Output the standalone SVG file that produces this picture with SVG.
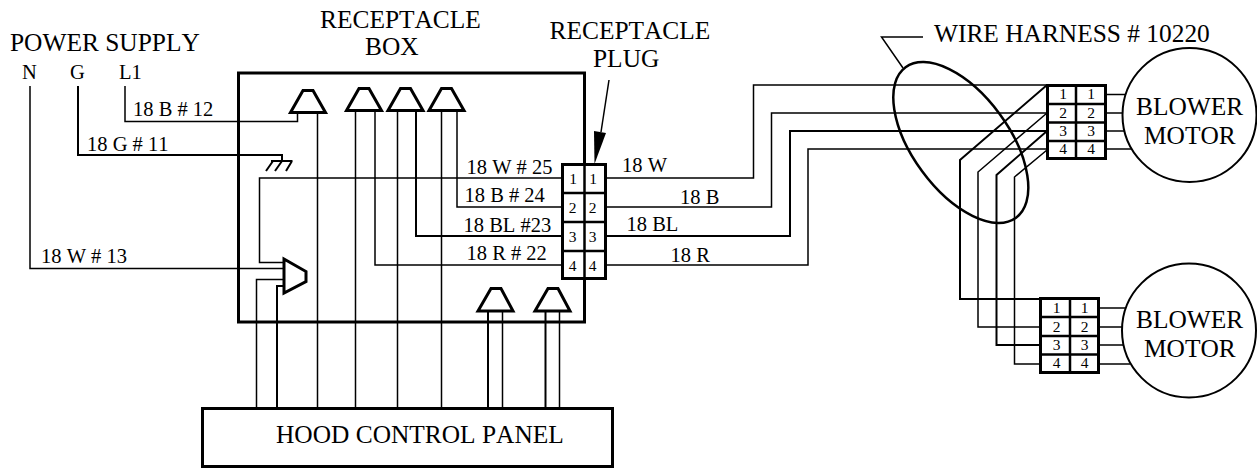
<svg xmlns="http://www.w3.org/2000/svg" width="1257" height="468" viewBox="0 0 1257 468">
<style>
text{font-family:"Liberation Serif","Times New Roman",serif;fill:#000;font-kerning:none}
.t{font-size:25.4px}.l{font-size:20.5px}.d{font-size:15.5px;text-anchor:middle}
.b{fill:none;stroke:#000;stroke-width:3}
.g{fill:none;stroke:#000;stroke-width:2.5}
.s{fill:#fff;stroke:#000;stroke-width:3;stroke-linejoin:miter}
.w path,.w line{fill:none;stroke:#000;stroke-width:1.5}
.m{fill:#fff;stroke:#000;stroke-width:2}
</style>
<rect width="1257" height="468" fill="#fff"/>
<g id="labels">
<text class="t" x="10" y="51">POWER SUPPLY</text>
<text class="l" x="22" y="79">N</text><text class="l" x="70" y="79">G</text><text class="l" x="119" y="79">L1</text>
<text class="l" x="133" y="116">18 B # 12</text>
<text class="l" x="87" y="151">18 G # 11</text>
<text class="l" x="41" y="263">18 W # 13</text>
<text class="t" x="320" y="27.5">RECEPTACLE</text>
<text class="t" x="365" y="54.5">BOX</text>
<text class="t" x="549.5" y="39">RECEPTACLE</text>
<text class="t" x="593" y="66.5">PLUG</text>
<text class="l" x="466.5" y="174">18 W # 25</text>
<text class="l" x="464.5" y="202">18 B # 24</text>
<text class="l" x="463.5" y="232">18 BL #23</text>
<text class="l" x="466.5" y="260">18 R # 22</text>
<text class="l" x="622" y="172">18 W</text>
<text class="l" x="680" y="204">18 B</text>
<text class="l" x="626.5" y="231">18 BL</text>
<text class="l" x="670.5" y="262">18 R</text>
<text class="t" x="934" y="41.5">WIRE HARNESS # 10220</text>
</g>
<g id="receptacle-box"><rect class="b" x="238.5" y="73" width="346" height="249"/></g>
<g id="connectors" class="w">
<path d="M30 86V268.5H284"/>
<path d="M78 86V155H282V161" style="stroke-width:2"/>
<path d="M125 86V121.5H297.5V112"/>
<path d="M562 178H259.5V262.5H285"/>
<path d="M562 207H457V110"/>
<path d="M562 236H416V110" style="stroke-width:2"/>
<path d="M562 265H375V110"/>
<path d="M317.5 112V408"/><path d="M355.5 110V408"/><path d="M397.5 110V408"/><path d="M441.5 110V408"/>
<path d="M256.5 408V279.5H285"/>
<path d="M277 408V286H285" style="stroke-width:2"/>
<path d="M488 311V408" style="stroke-width:2"/><path d="M502.5 311V408"/>
<path d="M545.5 311V408" style="stroke-width:2"/><path d="M559.5 311V408"/>
<path d="M606 178H753.5V85H1047"/>
<path d="M606 207H771.5V113H1047"/>
<path d="M606 236H790V131H1047" style="stroke-width:2"/>
<path d="M606 265H808V149H1047"/>
<path d="M1047 85L960 160V299H1040" style="stroke-width:2"/>
<path d="M1047 113L978 172V327H1040"/>
<path d="M1047 131L996.5 175V345H1040" style="stroke-width:2"/>
<path d="M1047 150L1014.5 177V364H1040"/>
<path d="M1106 94.5H1135"/><path d="M1106 113H1125"/><path d="M1106 131H1125"/><path d="M1106 149H1135"/>
<path d="M1099 308H1130"/><path d="M1099 327H1123"/><path d="M1099 345H1123"/><path d="M1099 364H1130"/>
</g>
<g id="ground" class="w"><path d="M271 161H292.5M273 161L266 171M282 161L275 171M292 161L286 171" style="stroke-width:2"/></g>
<g id="receptacles">
<path class="s" d="M290.5 112.5L303 90.5H313L325.5 112.5Z"/>
<path class="s" d="M346.5 110.5L359 88.5H369L381.5 110.5Z"/>
<path class="s" d="M388 110.5L400.5 88.5H410.5L423 110.5Z"/>
<path class="s" d="M429 110.5L441.5 88.5H451.5L464 110.5Z"/>
<path class="s" d="M284 259L306 271.5V281.5L284 293Z"/>
<path class="s" d="M478 311L491 288.5H501L513 311Z"/>
<path class="s" d="M535 311L548 288.5H558L570 311Z"/>
</g>
<g id="receptacle-plug">
<path class="s" d="M562.5 164.5H605.5V278.5H562.5Z"/>
<path class="g" d="M562.5 193H605.5M562.5 222H605.5M562.5 251H605.5M584.5 164.5V278.5"/>
<text class="d" x="573" y="184">1</text><text class="d" x="593" y="184">1</text>
<text class="d" x="572.5" y="213">2</text><text class="d" x="592.5" y="213">2</text>
<text class="d" x="572.5" y="242">3</text><text class="d" x="592.5" y="242">3</text>
<text class="d" x="572.5" y="271">4</text><text class="d" x="592.5" y="271">4</text>
</g>
<g id="plug-arrow"><line x1="609" y1="80" x2="601" y2="132" stroke="#000" stroke-width="1.5"/><path d="M594 131L606 133L594.5 164Z" fill="#000"/></g>
<g id="harness"><ellipse class="g" cx="960.8" cy="142.5" rx="93.3" ry="48.2" transform="rotate(53.7 960.8 142.5)"/><path d="M923 37H881.5L903 68" fill="none" stroke="#000" stroke-width="1.5"/></g>
<g id="connector-top">
<path class="s" d="M1047.5 85.5H1105.5V158.5H1047.5Z"/>
<path class="g" d="M1047.5 104H1105.5M1047.5 122.5H1105.5M1047.5 141H1105.5M1076 85.5V158.5"/>
<text class="d" x="1063" y="99">1</text><text class="d" x="1091" y="99">1</text>
<text class="d" x="1063" y="118">2</text><text class="d" x="1091" y="118">2</text>
<text class="d" x="1063" y="136">3</text><text class="d" x="1091" y="136">3</text>
<text class="d" x="1063" y="154">4</text><text class="d" x="1091" y="154">4</text>
</g>
<g id="connector-bottom">
<path class="s" d="M1040.5 298.5H1098.5V372.5H1040.5Z"/>
<path class="g" d="M1040.5 317H1098.5M1040.5 336H1098.5M1040.5 354.5H1098.5M1070 298.5V372.5"/>
<text class="d" x="1056.5" y="313">1</text><text class="d" x="1084.5" y="313">1</text>
<text class="d" x="1056.5" y="332">2</text><text class="d" x="1084.5" y="332">2</text>
<text class="d" x="1056.5" y="350">3</text><text class="d" x="1084.5" y="350">3</text>
<text class="d" x="1056.5" y="368">4</text><text class="d" x="1084.5" y="368">4</text>
</g>
<g id="motor-top"><circle class="m" cx="1189.5" cy="115" r="67"/><text class="t" x="1136" y="114.5">BLOWER</text><text class="t" x="1144" y="144">MOTOR</text></g>
<g id="motor-bottom"><circle class="m" cx="1189" cy="330.5" r="67"/><text class="t" x="1136" y="328">BLOWER</text><text class="t" x="1144" y="357">MOTOR</text></g>
<g id="hood-control-panel"><rect x="202.5" y="408.5" width="410" height="58" fill="#fff" stroke="#000" stroke-width="3"/><text class="t" x="276" y="443">HOOD CONTROL PANEL</text></g>
</svg>
